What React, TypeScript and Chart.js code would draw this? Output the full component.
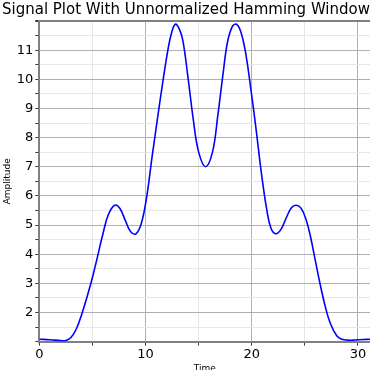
import React, { useEffect, useRef } from "react";
import { Chart, registerables } from "chart.js";

Chart.register(...registerables);

const timeValues = [
  0, 1, 2, 2.5, 3, 3.5, 4, 4.5, 5, 5.5, 6, 6.5, 7.1, 7.6, 8.1, 8.6, 9.1, 9.6,
  10.1, 10.6, 11.1, 11.6, 12.1, 12.45, 12.8, 13.15, 13.5, 14.0, 14.5, 15, 15.65,
  16.3, 16.8, 17.3, 17.7, 18.15, 18.55, 18.95, 19.4, 19.9, 20.4, 20.9,
  21.4, 21.8, 22.25, 22.75, 23.25, 23.75, 24.2, 24.65, 25.1, 25.5, 26.0, 26.4,
  26.9, 27.4, 28.0, 28.5, 29.0, 29.5, 30.5, 31.13,
];
const amplitudeValues = [
  1.08, 1.065, 1.035, 1.04, 1.15, 1.45, 1.95, 2.55, 3.2, 3.95, 4.72, 5.36,
  5.68, 5.56, 5.15, 4.77, 4.7, 5.05, 5.95, 7.3, 8.6, 9.85, 11.0, 11.6, 11.89,
  11.75, 11.35, 10.05, 8.6, 7.5, 7.0, 7.5, 8.75, 10.2, 11.25, 11.8, 11.89,
  11.65, 10.95, 9.7, 8.3, 6.8, 5.55, 4.9, 4.7, 4.85, 5.25, 5.6, 5.68,
  5.57, 5.2, 4.65, 3.75, 3.03, 2.23, 1.62, 1.2, 1.08, 1.05, 1.05, 1.07, 1.08,
];
const xTickValues = [0, 5, 10, 15, 20, 25, 30];
const yTickValues = [
  1, 1.5, 2, 2.5, 3, 3.5, 4, 4.5, 5, 5.5, 6, 6.5, 7, 7.5, 8, 8.5, 9, 9.5, 10,
  10.5, 11, 11.5, 12,
];
const yLabelled = [2, 3, 4, 5, 6, 7, 8, 9, 10, 11];
const xLabelled = [0, 10, 20, 30];

const FONT = "'DejaVu Sans', sans-serif";

export default function App() {
  const ref = useRef<HTMLCanvasElement | null>(null);
  useEffect(() => {
    document.body.style.margin = "0";
    document.body.style.overflow = "hidden";
    const canvas = ref.current;
    if (!canvas) return;
    const chart = new Chart(canvas, {
      type: "line",
      data: {
        datasets: [
          {
            data: timeValues.map((t, i) => ({ x: t, y: amplitudeValues[i] })),
            borderColor: "#0000ff",
            borderWidth: 1.6,
            pointRadius: 0,
            fill: false,
            tension: 0.4,
          },
        ],
      },
      options: {
        animation: false,
        responsive: false,
        maintainAspectRatio: false,
        layout: { padding: { left: 2, right: 0, top: 1, bottom: -4 } },
        plugins: {
          legend: { display: false },
          tooltip: { enabled: false },
          title: {
            display: true,
            text: "Signal Plot With Unnormalized Hamming Window",
            color: "#000",
            font: { family: FONT, size: 15, weight: "normal" },
            padding: { top: 0, bottom: 2 },
          },
        },
        scales: {
          x: {
            type: "linear",
            min: 0,
            max: 31.13,
            afterBuildTicks: (s: any) => {
              s.ticks = xTickValues.map((v) => ({ value: v }));
            },
            ticks: {
              autoSkip: false,
              maxRotation: 0,
              padding: 1,
              color: "#000",
              font: { family: FONT, size: 13 },
              callback: (v: any) => (xLabelled.includes(Number(v)) ? String(v) : ""),
            },
            grid: {
              color: (c: any) =>
                c.tick && c.tick.value % 10 === 0 ? "#b0b0b0" : "#e6e6e6",
              tickColor: "#333",
              tickLength: 4,
              lineWidth: 1,
            },
            border: { color: "#808080", width: 2 },
            title: {
              display: true,
              text: "Time",
              color: "#000",
              font: { family: FONT, size: 9 },
              padding: { top: 0, bottom: 0 },
            },
          },
          y: {
            type: "linear",
            min: 1,
            max: 12,
            afterBuildTicks: (s: any) => {
              s.ticks = yTickValues.map((v) => ({ value: v }));
            },
            ticks: {
              autoSkip: false,
              padding: 2,
              color: "#000",
              font: { family: FONT, size: 13 },
              callback: (v: any) => (yLabelled.includes(Number(v)) ? String(v) : ""),
            },
            grid: {
              color: (c: any) => {
                const v = c.tick ? c.tick.value : 0;
                if (v === 12) return "#808080";
                return Number.isInteger(v) ? "#b0b0b0" : "#e6e6e6";
              },
              lineWidth: (c: any) => (c.tick && c.tick.value === 12 ? 2 : 1),
              tickColor: "#333",
              tickLength: 4,
            },
            border: { color: "#808080", width: 2 },
            title: {
              display: true,
              text: "Amplitude",
              color: "#000",
              font: { family: FONT, size: 9 },
              padding: { top: 0, bottom: 2 },
            },
          },
        },
      },
    });
    return () => chart.destroy();
  }, []);
  return (
    <div style={{ width: 370, height: 370 }}>
      <canvas ref={ref} width={370} height={370} style={{ display: "block" }} />
    </div>
  );
}
